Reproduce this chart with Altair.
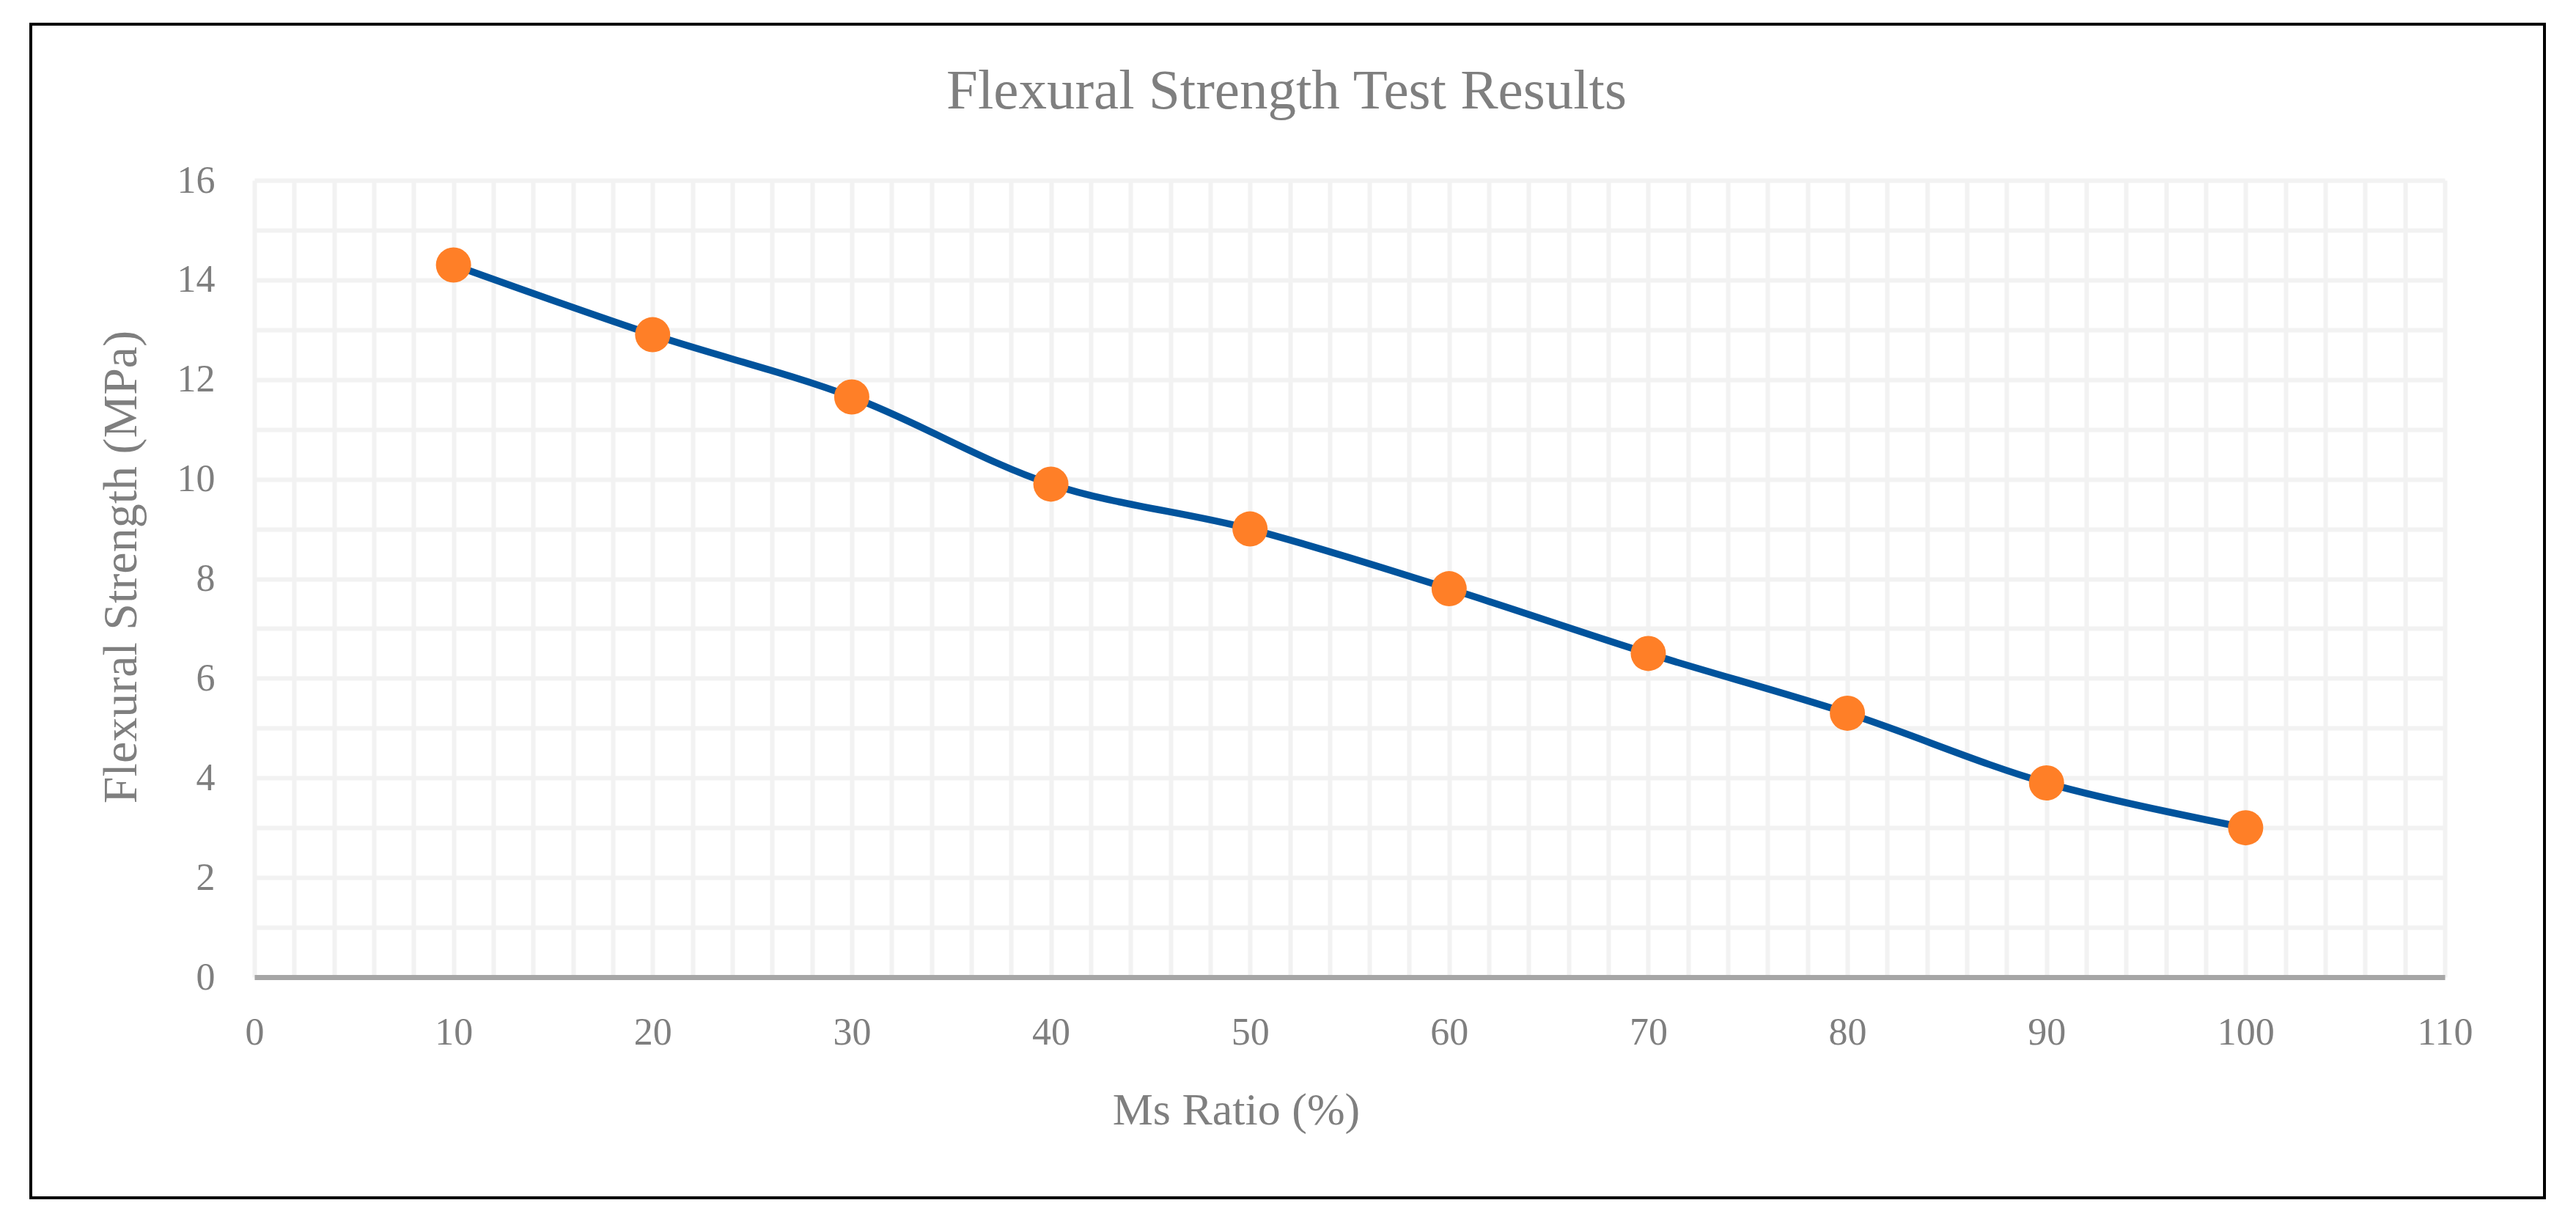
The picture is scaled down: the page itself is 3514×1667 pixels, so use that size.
import altair as alt
import pandas as pd

# ---- data ----
ms_ratio = [10, 20, 30, 40, 50, 60, 70, 80, 90, 100]
flexural_strength = [14.3, 12.9, 11.65, 9.9, 9.0, 7.8, 6.5, 5.3, 3.9, 3.0]
x_grid_values = list(range(0, 111, 2))
y_grid_values = list(range(0, 17, 1))

df = pd.DataFrame({"ms": ms_ratio, "fs": flexural_strength})

FONT = "Liberation Serif"
GRAY = "#7f7f7f"
W, H = 2988, 1087

x_enc = alt.X(
    "ms:Q",
    scale=alt.Scale(domain=[0, 110], nice=False, zero=True),
    axis=alt.Axis(
        values=x_grid_values,
        format="d",
        labelExpr="datum.value % 10 === 0 ? datum.label : ''",
        title="Ms Ratio (%)",
        grid=True, gridColor="#f2f2f2", gridWidth=6,
        domain=True, domainColor="#a6a6a6", domainWidth=7,
        ticks=False, tickSize=0,
        labelFont=FONT, labelFontSize=52, labelColor=GRAY,
        labelBaseline="alphabetic", labelPadding=91,
        labelOverlap=False, labelFlush=False,
        titleFont=FONT, titleFontSize=62, titleColor=GRAY, titleFontWeight="normal",
        titleX=1339, titleY=200, titleBaseline="alphabetic", titleAlign="center",
    ),
)

y_enc = alt.Y(
    "fs:Q",
    scale=alt.Scale(domain=[0, 16], nice=False, zero=True),
    axis=alt.Axis(
        values=y_grid_values,
        format="d",
        labelExpr="datum.value % 2 === 0 ? datum.label : ''",
        title="Flexural Strength (MPa)",
        grid=True, gridColor="#f2f2f2", gridWidth=6,
        domain=False, ticks=False, tickSize=0,
        labelFont=FONT, labelFontSize=52, labelColor=GRAY,
        labelBaseline="middle", labelPadding=54,
        labelOverlap=False, labelFlush=False,
        titleFont=FONT, titleFontSize=66, titleColor=GRAY, titleFontWeight="normal",
        titleAngle=270, titleX=-162, titleY=527,
        titleBaseline="alphabetic", titleAlign="center",
    ),
)

base = alt.Chart(df)

line = base.mark_line(interpolate="catmull-rom", color="#00539c", strokeWidth=9.5).encode(
    x=x_enc, y=y_enc
)
points = base.mark_circle(size=2304, color="#ff7f27", opacity=1).encode(
    x="ms:Q", y="fs:Q"
)

border = alt.Chart(pd.DataFrame({"a": [0]})).mark_rect(
    filled=False, fill=None, stroke="black", strokeWidth=4
).encode(
    x=alt.value(-305), x2=alt.value(3124), y=alt.value(-213), y2=alt.value(1388)
)

chart = alt.layer(line, points, border).properties(
    width=W,
    height=H,
    title=alt.TitleParams(
        "Flexural Strength Test Results",
        font=FONT, fontSize=77, color=GRAY, fontWeight="normal",
        anchor="middle", dx=-86, offset=-194, baseline="alphabetic",
    ),
    autosize=alt.AutoSizeParams(type="none"),
    padding={"left": 339, "top": 238, "right": 165, "bottom": 320},
    background="white",
).configure_view(stroke=None)

chart.save("out.html", embed_options={"renderer": "svg", "actions": False})
